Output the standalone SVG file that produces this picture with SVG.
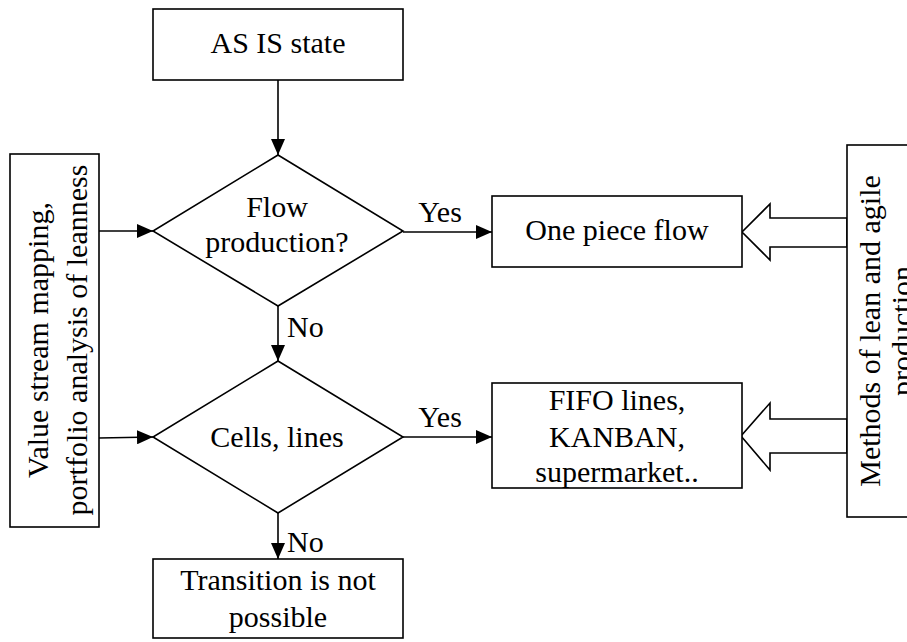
<svg xmlns="http://www.w3.org/2000/svg" width="907" height="642" viewBox="0 0 907 642">
<defs>
<marker id="ah" viewBox="0 0 16 14" markerWidth="16" markerHeight="14" refX="16" refY="7" orient="auto" markerUnits="userSpaceOnUse">
<path d="M0,0 L16,7 L0,14 Z" fill="#000"/>
</marker>
<style>
.box{fill:#fff;stroke:#000;stroke-width:1.6}
.t{font-size:30px;fill:#000}
.c{text-anchor:middle}
.ln{stroke:#000;stroke-width:1.6;fill:none}
.big{fill:#fff;stroke:#000;stroke-width:1.6;stroke-linejoin:miter}
</style>
</defs>
<rect width="907" height="642" fill="#fff"/>
<g font-family="'Liberation Serif', 'Times New Roman', Times, 'DejaVu Serif', serif">
<g id="connectors">
<line class="ln" x1="278" y1="80" x2="278" y2="155" marker-end="url(#ah)"/>
<line class="ln" x1="99" y1="231" x2="153" y2="231" marker-end="url(#ah)"/>
<line class="ln" x1="99" y1="438" x2="153" y2="437" marker-end="url(#ah)"/>
<line class="ln" x1="403" y1="232" x2="492" y2="232" marker-end="url(#ah)"/>
<line class="ln" x1="403" y1="437" x2="492" y2="437" marker-end="url(#ah)"/>
<line class="ln" x1="278" y1="306" x2="278" y2="361" marker-end="url(#ah)"/>
<line class="ln" x1="278" y1="513" x2="278" y2="559" marker-end="url(#ah)"/>
<polygon class="big" points="847,218 770,218 770,204 742,232 770,260 770,247 847,247"/>
<polygon class="big" points="847,419 770,419 770,403 741,436 770,470 770,453 847,453"/>
<text class="t c" x="440" y="222">Yes</text>
<text class="t c" x="440" y="427">Yes</text>
<text class="t" x="287" y="337">No</text>
<text class="t" x="287" y="552">No</text>
</g>
<g id="as-is">
<rect class="box" x="153" y="9" width="250" height="71"/>
<text class="t c" x="278" y="53">AS IS state</text>
</g>
<g id="vsm">
<rect class="box" x="10" y="154" width="89" height="373"/>
<text class="t c" transform="translate(48,340) rotate(-90)"><tspan x="0" y="0">Value stream mapping,</tspan><tspan x="0" y="39">portfolio analysis of leanness</tspan></text>
</g>
<g id="flow-production">
<polygon class="box" points="278,155 403,231 278,306 153,231"/>
<text class="t c" x="277" y="217">Flow</text>
<text class="t c" x="277" y="252">production?</text>
</g>
<g id="one-piece-flow">
<rect class="box" x="492" y="196" width="250" height="71"/>
<text class="t c" x="617" y="240">One piece flow</text>
</g>
<g id="cells-lines">
<polygon class="box" points="278,361 403,437 278,513 153,437"/>
<text class="t c" x="277" y="447">Cells, lines</text>
</g>
<g id="fifo">
<rect class="box" x="492" y="383" width="250" height="105"/>
<text class="t c" x="617" y="410">FIFO lines,</text>
<text class="t c" x="617" y="447">KANBAN,</text>
<text class="t c" x="617" y="482">supermarket..</text>
</g>
<g id="methods">
<rect class="box" x="847" y="145" width="90" height="372"/>
<text class="t c" transform="translate(880,331) rotate(-90)"><tspan x="0" y="0">Methods of lean and agile</tspan><tspan x="0" y="32">production</tspan></text>
</g>
<g id="not-possible">
<rect class="box" x="153" y="559" width="250" height="79"/>
<text class="t c" x="278" y="590">Transition is not</text>
<text class="t c" x="278" y="627">possible</text>
</g>
</g>
</svg>
